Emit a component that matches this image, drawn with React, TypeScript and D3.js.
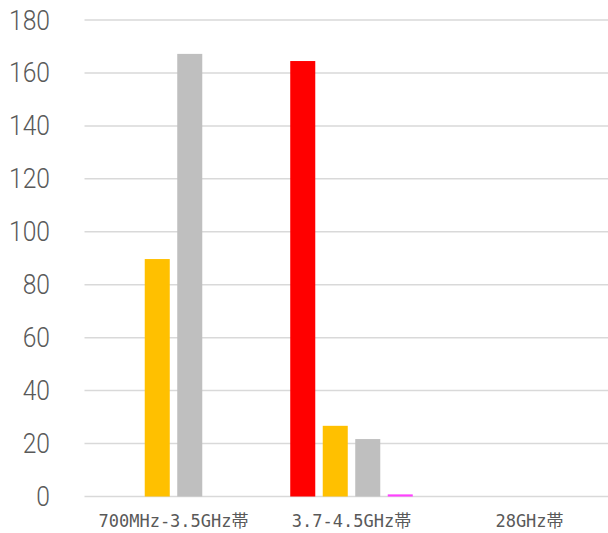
import React from "react";
import * as d3 from "d3";

const categories = ["700MHz-3.5GHz帯", "3.7-4.5GHz帯", "28GHz帯"];
const seriesNames = ["S1", "S2", "S3", "S4"];
const seriesColors = ["#FF0000", "#FFC000", "#BFBFBF", "#FF40FF"];
const s1Values = [0, 164.5, 0];
const s2Values = [89.7, 26.7, 0];
const s3Values = [167.2, 21.7, 0];
const s4Values = [0, 0.8, 0];
const yTicks = [0, 20, 40, 60, 80, 100, 120, 140, 160, 180];

const W = 608;
const H = 533;
const plotLeft = 84.5;
const plotRight = 618.5;
const plotTop = 20;
const plotBottom = 496.5;

export default function App() {
  const seriesValues = [s1Values, s2Values, s3Values, s4Values];
  const x = d3.scaleBand<string>().domain(categories).range([plotLeft, plotRight]).padding(0);
  const inner = d3
    .scaleBand<string>()
    .domain(seriesNames)
    .range([-65, 65])
    .paddingInner(0.23)
    .paddingOuter(0.115);
  const y = d3.scaleLinear().domain([0, 180]).range([plotBottom, plotTop]);

  return (
    <svg
      width={W}
      height={H}
      style={{ position: "absolute", left: 0, top: 0, background: "#fff" }}
    >
      {yTicks.map((t) => (
        <g key={t}>
          <line
            x1={plotLeft}
            x2={plotRight}
            y1={y(t)}
            y2={y(t)}
            stroke="#D9D9D9"
            strokeWidth={1.5}
          />
          <text
            x={50}
            y={y(t)}
            textAnchor="end"
            dominantBaseline="central"
            fill="#595959"
            fontFamily="Roboto, 'Liberation Sans', sans-serif"
            fontWeight={300}
            fontSize={28}
            transform={`translate(50,0) scale(0.88,1) translate(-50,0)`}
          >
            {t}
          </text>
        </g>
      ))}
      {categories.map((c, ci) => {
        const cx = (x(c) as number) + x.bandwidth() / 2;
        return (
          <g key={c}>
            {seriesNames.map((s, si) => {
              const v = seriesValues[si][ci];
              if (v <= 0) return null;
              const bx = cx + (inner(s) as number);
              return (
                <rect
                  key={s}
                  x={bx}
                  width={inner.bandwidth()}
                  y={y(v)}
                  height={y(0) - y(v)}
                  fill={seriesColors[si]}
                />
              );
            })}
            <text
              x={cx}
              y={521}
              textAnchor="middle"
              dominantBaseline="central"
              fill="#595959"
              fontFamily="'DejaVu Sans Mono', 'Noto Sans CJK JP', monospace"
              fontSize={17}
            >
              {c}
            </text>
          </g>
        );
      })}
    </svg>
  );
}
